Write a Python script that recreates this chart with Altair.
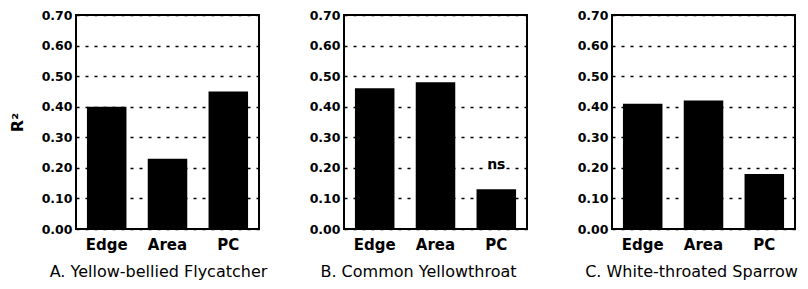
import altair as alt
import pandas as pd

categories = ["Edge", "Area", "PC"]
flycatcher = [0.40, 0.23, 0.45]
yellowthroat = [0.46, 0.48, 0.13]
sparrow = [0.41, 0.42, 0.18]
notes_a = ["", "", ""]
notes_b = ["", "", "ns"]
notes_c = ["", "", ""]
panel_titles = ["A. Yellow-bellied Flycatcher", "B. Common Yellowthroat", "C. White-throated Sparrow"]
y_ticks = [0.0, 0.1, 0.2, 0.3, 0.4, 0.5, 0.6, 0.7]
y_title = "R²"

FONT = "DejaVu Sans"


def panel(values, notes, title, show_ytitle, title_dx):
    df = pd.DataFrame({"category": categories, "value": values, "note": notes})
    x_scale = alt.Scale(paddingInner=0.35, paddingOuter=0.18)
    x_axis = alt.Axis(title=None, labelAngle=0, ticks=False, domain=False,
                      labelFont=FONT, labelFontSize=15, labelFontWeight="bold",
                      labelColor="black", labelPadding=8)
    y_axis_kw = dict(values=y_ticks, format=".2f", ticks=False, domain=False,
                     labelFont=FONT, labelFontSize=12.5, labelFontWeight="bold",
                     labelColor="black", labelPadding=4, labelOverlap=False,
                     labelFlush=False,
                     grid=True, gridColor="black", gridDash=[3, 6], gridWidth=1.4,
                     gridOpacity=1)
    if show_ytitle:
        y_axis_kw.update(title=y_title, titleFont=FONT, titleFontSize=16,
                         titleFontWeight="bold", titleColor="black", titlePadding=16)
    else:
        y_axis_kw.update(title=None)
    y_scale = alt.Scale(domain=[0, 0.7], nice=False, zero=True)
    base = alt.Chart(df).encode(
        x=alt.X("category:N", sort=categories, scale=x_scale, axis=x_axis),
        y=alt.Y("value:Q", scale=y_scale, axis=alt.Axis(**y_axis_kw)),
    )
    bars = base.mark_bar(color="black")
    text = base.mark_text(font=FONT, fontSize=14, fontWeight="bold",
                          color="black", baseline="alphabetic", dy=-20).encode(
        text="note:N",
    )
    return alt.layer(bars, text).properties(
        width=183, height=214,
        title=alt.TitleParams(title, orient="bottom", anchor="middle", frame="group",
                              font=FONT, fontSize=16, fontWeight="normal",
                              color="black", offset=12, dx=title_dx),
    )


a = panel(flycatcher, notes_a, panel_titles[0], True, -9)
b = panel(yellowthroat, notes_b, panel_titles[1], False, -17)
c = panel(sparrow, notes_c, panel_titles[2], False, -12)

chart = alt.hconcat(a, b, c, spacing=85, bounds="flush").configure_view(
    stroke="black", strokeWidth=2
).properties(padding={"left": 0, "top": 0, "right": 0, "bottom": 0}, background="white")

chart.save("out.html", embed_options={"renderer": "svg", "actions": False})
